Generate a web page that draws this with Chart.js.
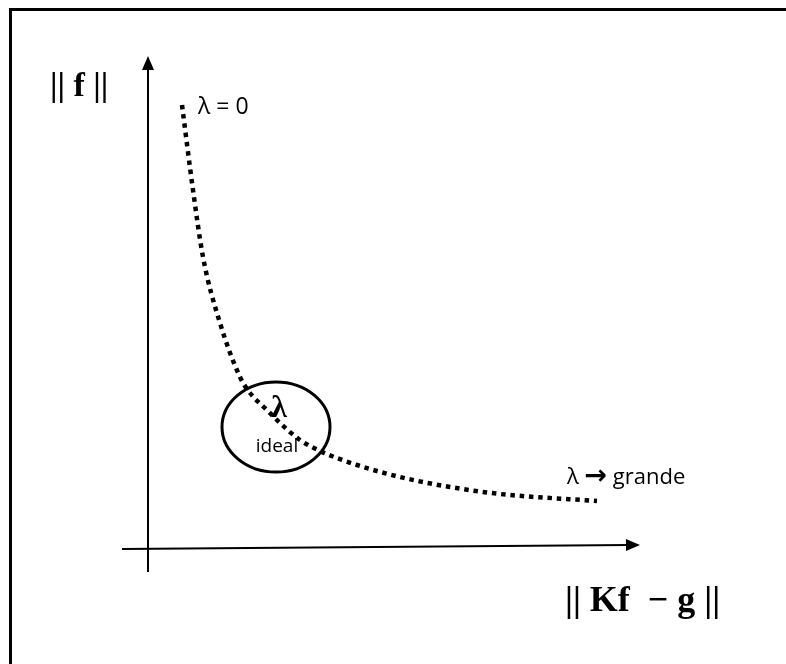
<!DOCTYPE html>
<html>
<head>
<meta charset="utf-8">
<script src="https://cdn.jsdelivr.net/npm/chart.js@4.4.1/dist/chart.umd.min.js"></script>
<style>
    html, body { margin: 0; padding: 0; background: #fff; overflow: hidden; }
    #frame {
        position: absolute; left: 9px; top: 8px;
        width: 820px; height: 720px;
        border: 3px solid #000; box-sizing: border-box;
    }
    #wrap { position: absolute; left: 0; top: 0; width: 786px; height: 664px; }
</style>
</head>
<body>
<div id="frame"></div>
<div id="wrap"><canvas id="lcurve" width="786" height="664"></canvas></div>
<script>
// L-curve: residual norm (x) vs solution norm (y)
const residualNorm = [0.68, 0.90, 1.10, 1.44, 1.84, 2.04, 2.38, 2.64, 3.04, 3.44, 4.18, 5.04, 6.04, 7.04, 8.98];
const solutionNorm = [8.86, 7.16, 5.82, 4.50, 3.42, 3.10, 2.76, 2.50, 2.16, 1.94, 1.66, 1.42, 1.22, 1.08, 0.94];

// ideal lambda region (center and half-widths, in axis units)
const idealCenter = [2.56, 2.42];
const idealRadius = [1.08, 0.90];

// axis extents
const xAxisStart = [-0.52, -0.02];
const xAxisEnd = [9.84, 0.06];
const yAxisStart = [0, -0.48];
const yAxisEnd = [0, 9.84];

const labels = {
    yTitle: '|| f ||',
    xTitle: '|| Kf  \u2212 g ||',
    lambdaZero: '\u03bb = 0',
    lambdaBig: ['\u03bb ', '\u2192', ' grande'],
    lambda: '\u03bb',
    ideal: 'ideal'
};

const points = residualNorm.map((x, i) => ({ x: x, y: solutionNorm[i] }));

function arrow(ctx, x1, y1, x2, y2) {
    const ang = Math.atan2(y2 - y1, x2 - x1);
    const len = 14, half = 6;
    ctx.beginPath();
    ctx.moveTo(x1, y1);
    ctx.lineTo(x2 - Math.cos(ang) * len * 0.8, y2 - Math.sin(ang) * len * 0.8);
    ctx.stroke();
    ctx.beginPath();
    ctx.moveTo(x2, y2);
    ctx.lineTo(x2 - Math.cos(ang) * len - Math.sin(ang) * half, y2 - Math.sin(ang) * len + Math.cos(ang) * half);
    ctx.lineTo(x2 - Math.cos(ang) * len + Math.sin(ang) * half, y2 - Math.sin(ang) * len - Math.cos(ang) * half);
    ctx.closePath();
    ctx.fill();
}

const sketchPlugin = {
    id: 'sketch',
    beforeDatasetsDraw(chart) {
        const ctx = chart.ctx;
        const sx = chart.scales.x, sy = chart.scales.y;
        const px = v => sx.getPixelForValue(v);
        const py = v => sy.getPixelForValue(v);
        ctx.save();
        ctx.strokeStyle = '#000';
        ctx.fillStyle = '#000';
        ctx.lineWidth = 2;
        arrow(ctx, px(yAxisStart[0]), py(yAxisStart[1]), px(yAxisEnd[0]), py(yAxisEnd[1]));
        arrow(ctx, px(xAxisStart[0]), py(xAxisStart[1]), px(xAxisEnd[0]), py(xAxisEnd[1]));
        ctx.restore();
    },
    afterDatasetsDraw(chart) {
        const ctx = chart.ctx;
        const sx = chart.scales.x, sy = chart.scales.y;
        const px = v => sx.getPixelForValue(v);
        const py = v => sy.getPixelForValue(v);
        ctx.save();
        ctx.strokeStyle = '#000';
        ctx.fillStyle = '#000';

        // circle round the corner of the curve
        const cx = px(idealCenter[0]), cy = py(idealCenter[1]);
        const rx = Math.abs(px(idealCenter[0] + idealRadius[0]) - cx);
        const ry = Math.abs(py(idealCenter[1] + idealRadius[1]) - cy);
        ctx.lineWidth = 3;
        ctx.beginPath();
        ctx.ellipse(cx, cy, rx, ry, 0, 0, Math.PI * 2);
        ctx.stroke();

        ctx.textBaseline = 'middle';
        ctx.textAlign = 'center';
        ctx.font = 'bold 32px "Liberation Serif"';
        ctx.fillText(labels.lambda, cx + 3, cy - 18);
        ctx.font = '19px "Open Sans"';
        ctx.fillText(labels.ideal, cx + 1, cy + 20);

        ctx.textAlign = 'left';
        ctx.font = '23px "Open Sans"';
        const first = points[0], last = points[points.length - 1];
        ctx.fillText(labels.lambdaZero, px(first.x) + 16, py(first.y) + 2);

        // "lambda -> grande", arrow glyph set larger in a heavier face
        const fonts = ['22px "Open Sans"', 'bold 27px "DejaVu Sans"', '22px "Open Sans"'];
        let tx = px(last.x) - 30;
        const ty = py(last.y) - 23;
        labels.lambdaBig.forEach((part, i) => {
            ctx.font = fonts[i];
            ctx.fillText(part, tx, ty + (i === 1 ? -1 : 0));
            tx += ctx.measureText(part).width;
        });

        ctx.font = 'bold 34px "Liberation Serif"';
        ctx.fillText(labels.yTitle, px(0) - 98, py(yAxisEnd[1]) + 31);
        ctx.font = 'bold 36px "Liberation Serif"';
        ctx.fillText(labels.xTitle, px(0) + 417, py(0) + 54);
        ctx.restore();
    }
};

new Chart(document.getElementById('lcurve'), {
    type: 'scatter',
    data: {
        datasets: [{
            data: points,
            showLine: true,
            borderColor: '#000',
            borderWidth: 4.5,
            borderDash: [4.5, 4.8],
            borderCapStyle: 'butt',
            cubicInterpolationMode: 'monotone',
            pointRadius: 0,
            fill: false
        }]
    },
    options: {
        responsive: false,
        animation: false,
        layout: { padding: 0 },
        plugins: { legend: { display: false }, tooltip: { enabled: false } },
        scales: {
            x: { type: 'linear', min: -2.96, max: 12.76, display: false },
            y: { type: 'linear', min: -2.32, max: 10.96, display: false }
        }
    },
    plugins: [sketchPlugin]
});
</script>
</body>
</html>
